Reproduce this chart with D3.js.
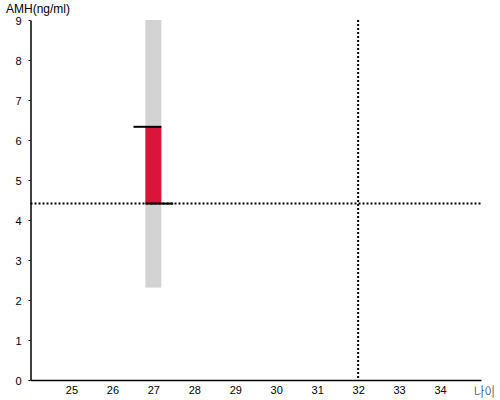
<!DOCTYPE html>
<html>
<head>
	<meta charset="utf-8">
	<title>AMH</title>
	<style type="text/css">
		body { margin: 0; font-family: 'Liberation Sans', Arial, sans-serif; }
		svg { display: block; }
		.axis path, .axis line { stroke: black; }
		.axis text { font-family: 'Liberation Sans', Arial, sans-serif; font-size: 11px; fill: black; }
	</style>
	<script src="https://d3js.org/d3.v7.min.js"></script>
</head>
<body>
	<svg width="500" height="400"></svg>
	<script type="text/javascript">
		// data
		var xTicks = [25, 26, 27, 28, 29, 30, 31, 32, 33, 34];
		var yTicks = [0, 1, 2, 3, 4, 5, 6, 7, 8, 9];
		var rangeAge = [27];        // age of the range bar
		var rangeLow = [2.31];      // gray bar bottom
		var rangeHigh = [9];        // gray bar top
		var valueAge = [27];
		var valueLow = [4.41];      // red bar bottom
		var valueHigh = [6.33];     // red bar top
		var refAMH = 4.41;          // horizontal dotted line
		var refAge = 32;            // vertical dotted line

		var svg = d3.select('svg');
		var x = d3.scaleLinear().domain([24, 35]).range([30.5, 481]);
		var y = d3.scaleLinear().domain([0, 9]).range([380, 20]);
		var barHalf = 0.195;
		var capExt = 0.29;

		// gray range bar
		svg.selectAll('rect.range')
			.data(rangeAge)
			.enter()
			.append('rect')
			.attr('class', 'range')
			.attr('x', (d) => x(d - barHalf))
			.attr('width', (d) => x(d + barHalf) - x(d - barHalf))
			.attr('y', (d, i) => y(rangeHigh[i]))
			.attr('height', (d, i) => y(rangeLow[i]) - y(rangeHigh[i]))
			.attr('fill', '#d3d3d3');

		// red value bar
		svg.selectAll('rect.value')
			.data(valueAge)
			.enter()
			.append('rect')
			.attr('class', 'value')
			.attr('x', (d) => x(d - barHalf))
			.attr('width', (d) => x(d + barHalf) - x(d - barHalf))
			.attr('y', (d, i) => y(valueHigh[i]))
			.attr('height', (d, i) => y(valueLow[i]) - y(valueHigh[i]))
			.attr('fill', '#dc143c');

		// dotted reference lines
		svg.append('line')
			.attr('x1', x(24)).attr('x2', x(35))
			.attr('y1', y(refAMH)).attr('y2', y(refAMH))
			.attr('stroke', 'black').attr('stroke-width', 2)
			.attr('stroke-dasharray', '2,2');
		svg.append('line')
			.attr('x1', x(refAge)).attr('x2', x(refAge))
			.attr('y1', y(9)).attr('y2', y(0))
			.attr('stroke', 'black').attr('stroke-width', 2)
			.attr('stroke-dasharray', '2,2');

		// black caps at top and bottom of the value bar
		valueAge.forEach((d, i) => {
			svg.append('line')
				.attr('x1', x(d - barHalf - capExt)).attr('x2', x(d + barHalf))
				.attr('y1', y(valueHigh[i])).attr('y2', y(valueHigh[i]))
				.attr('stroke', 'black').attr('stroke-width', 2);
			svg.append('line')
				.attr('x1', x(d - barHalf)).attr('x2', x(d + barHalf + capExt))
				.attr('y1', y(valueLow[i])).attr('y2', y(valueLow[i]))
				.attr('stroke', 'black').attr('stroke-width', 2);
		});

		// axes
		svg.append('g')
			.attr('class', 'axis')
			.attr('transform', 'translate(0,380)')
			.call(d3.axisBottom(x).tickValues(xTicks).tickSize(0).tickSizeOuter(0).tickPadding(6))
			.select('.domain').attr('stroke-width', 1.5);
		var yAxis = svg.append('g')
			.attr('class', 'axis')
			.attr('transform', 'translate(30.5,0)')
			.call(d3.axisLeft(y).tickValues(yTicks).tickSize(2).tickSizeOuter(0).tickPadding(7));
		yAxis.select('.domain').attr('stroke-width', 1.5);
		yAxis.selectAll('.tick text').attr('dy', '0.45em');

		svg.append('text')
			.attr('x', 6).attr('y', 13)
			.attr('font-size', '12px')
			.text('AMH(ng/ml)');
		svg.append('text')
			.attr('x', 474).attr('y', 396)
			.attr('font-family', "'Noto Sans CJK KR', sans-serif")
			.attr('font-size', '13px')
			.attr('font-weight', 300)
			.attr('textLength', 21)
			.attr('lengthAdjust', 'spacingAndGlyphs')
			.text('나이');
	</script>
</body>
</html>
